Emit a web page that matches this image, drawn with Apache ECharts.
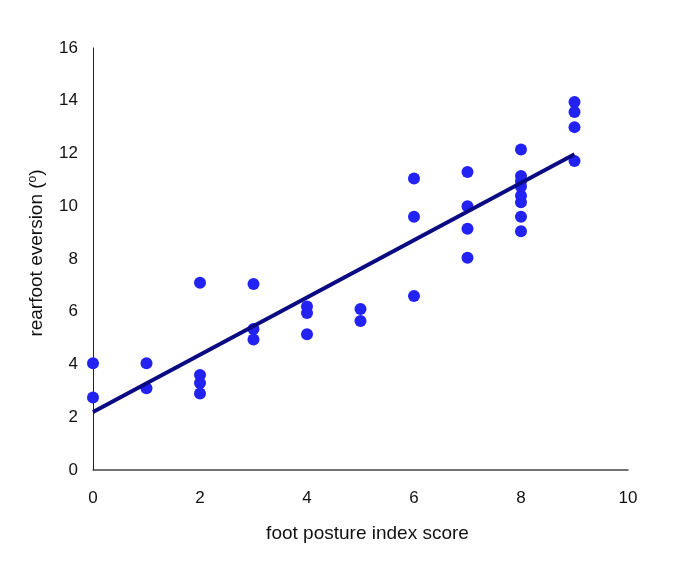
<!DOCTYPE html>
<html>
<head>
<meta charset="utf-8">
<script src="https://cdn.jsdelivr.net/npm/echarts@6/dist/echarts.min.js"></script>
<style>
  html, body { margin: 0; padding: 0; background: #fff; }
  #chart { width: 685px; height: 584px; }
</style>
</head>
<body>
<div id="chart"></div>
<script>
// foot posture index score vs rearfoot eversion
var fpiScore = [0, 0, 1, 1, 2, 2, 2, 2, 3, 3, 3, 4, 4, 4, 5, 5, 6, 6, 6, 7, 7, 7, 7,
                8, 8, 8, 8, 8, 8, 8, 8, 9, 9, 9, 9];
var eversion = [4.05, 2.75, 4.05, 3.1, 7.1, 3.6, 3.3, 2.9, 7.05, 5.35, 4.95, 6.2, 5.95, 5.15, 6.1, 5.65,
                11.05, 9.6, 6.6, 11.3, 10.0, 9.15, 8.05,
                12.15, 11.15, 10.95, 10.75, 10.4, 10.15, 9.6, 9.05, 13.95, 13.57, 13.0, 11.72];
// fitted trend line end points
var fitX = [0, 9];
var fitY = [2.2, 11.97];

var points = fpiScore.map(function (x, i) { return [x, eversion[i]]; });
var fitLine = fitX.map(function (x, i) { return [x, fitY[i]]; });

var chart = echarts.init(document.getElementById('chart'));
chart.setOption({
  animation: false,
  grid: { left: 93, right: 57, top: 48, bottom: 114 },
  xAxis: {
    type: 'value',
    min: 0, max: 10, interval: 2,
    name: 'foot posture index score',
    nameLocation: 'middle',
    nameGap: 54,
    nameTextStyle: { fontFamily: 'Liberation Sans', fontSize: 19, color: '#111', padding: [0, 0, 0, 14] },
    axisLine: { lineStyle: { color: '#444', width: 1.5 } },
    axisTick: { show: false },
    splitLine: { show: false },
    axisLabel: { margin: 20, fontFamily: 'Liberation Sans', fontSize: 17, color: '#111' }
  },
  yAxis: {
    type: 'value',
    min: 0, max: 16, interval: 2,
    name: 'rearfoot eversion ({s|o})',
    nameLocation: 'middle',
    nameGap: 46,
    nameTextStyle: {
      fontFamily: 'Liberation Sans', fontSize: 19, color: '#111', padding: [0, 0, 0, 12],
      rich: { s: { fontFamily: 'Liberation Sans', fontSize: 12, color: '#111', verticalAlign: 'top', padding: [0, 0, 8, 0] } }
    },
    axisLine: { show: true, lineStyle: { color: '#222', width: 1 } },
    axisTick: { show: false },
    splitLine: { show: false },
    axisLabel: { margin: 15, fontFamily: 'Liberation Sans', fontSize: 17, color: '#111' }
  },
  series: [
    {
      type: 'scatter',
      data: points,
      symbolSize: 12,
      itemStyle: { color: '#2222f2', opacity: 1 },
      z: 2
    },
    {
      type: 'line',
      data: fitLine,
      symbol: 'none',
      lineStyle: { color: '#0a0a82', width: 4 },
      z: 3
    }
  ]
});
</script>
</body>
</html>
